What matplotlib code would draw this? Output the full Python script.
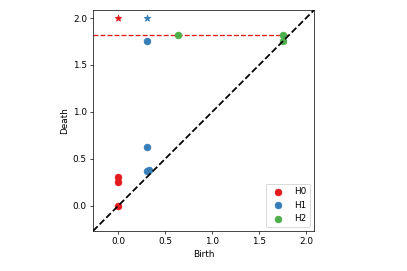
import matplotlib
matplotlib.use("Agg")
import matplotlib.pyplot as plt
import numpy as np

# persistence pairs (birth, death)
h0_birth = [0.0, 0.0, 0.0]
h0_death = [0.0, 0.25, 0.31]
h1_birth = [0.31, 0.33, 0.31, 0.31]
h1_death = [0.37, 0.38, 0.63, 1.76]
h2_birth = [0.635, 1.75, 1.75]
h2_death = [1.82, 1.82, 1.76]

# infinite classes, drawn as stars on top
inf_birth = [0.0, 0.31]
inf_death = [2.0, 2.0]
inf_colors = ["#e41a1c", "#377eb8"]

cutoff = 1.815

lo, hi = -0.27, 2.085

DPI = 63.6
fig = plt.figure(figsize=(407 / DPI, 271 / DPI), dpi=DPI)
ax = fig.add_axes([0.2285, 0.1476, 0.543, 0.815])

ax.plot([lo, hi], [lo, hi], "k--", lw=2, zorder=3)
ax.plot([lo, cutoff], [cutoff, cutoff], "--", c="#e41a1c", lw=1.5, zorder=1)

ax.scatter(h0_birth, h0_death, s=55, c="#e41a1c", label="H0", zorder=2)
ax.scatter(h1_birth, h1_death, s=55, c="#377eb8", label="H1", zorder=2)
ax.scatter(h2_birth, h2_death, s=55, c="#4daf4a", label="H2", zorder=2)
for b, d, c in zip(inf_birth, inf_death, inf_colors):
    ax.scatter([b], [d], s=55, marker="*", c=c, zorder=2)

ax.set_xlim(lo, hi)
ax.set_ylim(lo, hi)
ax.set_xticks([0.0, 0.5, 1.0, 1.5, 2.0])
ax.set_yticks([0.0, 0.5, 1.0, 1.5, 2.0])
ax.set_xlabel("Birth")
ax.set_ylabel("Death")
ax.legend(loc="lower right")

fig.savefig("out.png", dpi=DPI)
